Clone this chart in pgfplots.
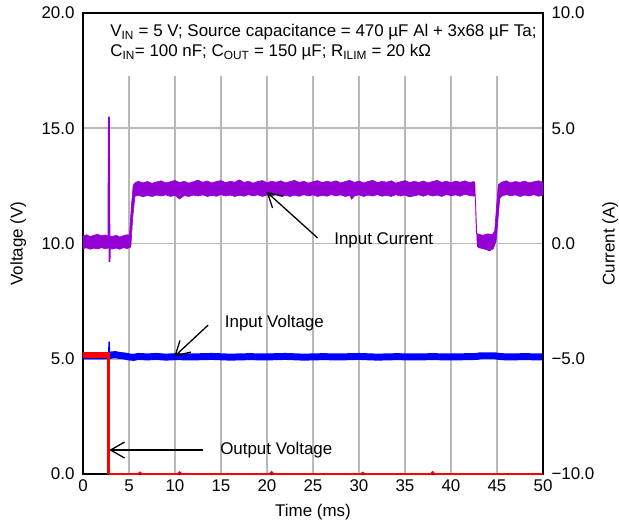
\documentclass[border=0pt]{standalone}
\usepackage{fontspec}
\setmainfont{Liberation Sans}
\usepackage{pgfplots}
\pgfplotsset{compat=1.18}
\usetikzlibrary{arrows.meta}

\definecolor{trcurr}{RGB}{148,0,211}
\definecolor{trvin}{RGB}{0,0,255}
\definecolor{trvout}{RGB}{255,0,0}
\definecolor{gridgray}{RGB}{185,185,185}

\newcommand{\chartfont}{\fontsize{17}{19}\selectfont}

\begin{document}
\begin{tikzpicture}[font=\chartfont]
\pgfplotsset{
  every axis/.append style={
    scale only axis, width=460bp, height=461bp,
    xmin=0, xmax=50,
    major tick length=0pt,
    /pgf/number format/assume math mode=true,
    tick label style={font=\chartfont},
    label style={font=\chartfont, inner sep=0pt},
    axis line style={line width=1.6pt},
    yticklabel shift=5pt,
    xticklabel shift=2pt,
  },
}

% voltage axis (left)
\begin{axis}[
  name=main,
  ymin=0, ymax=20,
  xtick={0,5,...,50},
  ytick={0,5,10,15,20},
  yticklabels={0.0,5.0,10.0,15.0,20.0},
  grid=major,
  major grid style={draw=gridgray, line width=1.7pt},
  xlabel={Time (ms)},
  ylabel={Voltage (V)},
  xlabel style={at={(axis description cs:0.5,-0.082)}, anchor=center},
  ylabel style={at={(axis description cs:-0.141,0.5)}, anchor=center, rotate=0},
]
  % input voltage
  \addplot[trvin, line width=7pt, line join=round] coordinates {
    (0,5.12) (2.83,5.12) (3.0,5.16) (3.5,5.18) (4.0,5.14) (4.5,5.12)
    (5.0,5.08) (5.5,5.06) (6,5.10) (7,5.08) (8,5.10) (9,5.07) (10,5.09)
    (12,5.08) (14,5.10) (16,5.07) (18,5.09) (20,5.08) (22,5.10) (24,5.07)
    (26,5.09) (28,5.08) (30,5.10) (32,5.07) (34,5.09) (36,5.08) (38,5.09)
    (40,5.08) (42,5.09) (42.8,5.10) (43.2,5.13) (44.8,5.13) (45.2,5.10)
    (46,5.08) (48,5.09) (50,5.08)
  };
  \addplot[trvin, line width=1.5pt] coordinates {
    (2.80,5.10) (2.84,5.74) (2.88,5.00) (2.92,5.10)
  };
  % output voltage
  \addplot[trvout, line width=6.5pt] coordinates {(0,5.16) (2.83,5.16)};
  \addplot[trvout, line width=3pt] coordinates {(2.80,5.25) (2.80,0)};
  \addplot[trvout, line width=2pt] coordinates {
    (2.80,0) (6,0) (6.2,0.06) (6.4,0) (10.3,0) (10.5,0.07) (10.7,0)
    (20.3,0) (20.5,0.08) (20.7,0) (30.2,0) (30.4,0.05) (30.6,0)
    (37.8,0) (38.0,0.08) (38.2,0) (50,0)
  };
\end{axis}

% current axis (right)
\begin{axis}[
  ymin=-10, ymax=10,
  axis y line*=right,
  axis x line=none,
  ytick={-10,-5,0,5,10},
  yticklabels={−10.0,−5.0,0.0,5.0,10.0},
  ylabel={Current (A)},
  ylabel style={at={(axis description cs:1.146,0.5)}, anchor=center, rotate=0},
]
  % input current band
  \addplot[fill=trcurr, draw=trcurr, line width=0.6pt] coordinates {
    (0.0,0.32) (0.4,0.38) (0.8,0.30) (1.2,0.36) (1.6,0.40) (2.0,0.33)
    (2.4,0.37) (2.8,0.32) (3.2,0.30) (3.6,0.36) (4.0,0.28) (4.4,0.34)
    (4.8,0.38) (5.05,0.36) (5.25,1.6) (5.45,2.50) (5.6,2.62)
    (6.0,2.70) (6.5,2.63) (7.0,2.69) (7.5,2.61) (8.0,2.67) (8.5,2.72)
    (9.0,2.63) (9.5,2.68) (10.0,2.74) (10.5,2.64) (11.0,2.70) (11.5,2.62)
    (12.0,2.68) (12.5,2.75) (13.0,2.66) (13.5,2.71) (14.0,2.63) (14.5,2.69)
    (15.0,2.73) (15.5,2.64) (16.0,2.70) (16.5,2.66) (17.0,2.76) (17.5,2.65)
    (18.0,2.70) (18.5,2.62) (19.0,2.69) (19.5,2.73) (20.0,2.64) (20.5,2.70)
    (21.0,2.66) (21.5,2.72) (22.0,2.63) (22.5,2.69) (23.0,2.74) (23.5,2.65)
    (24.0,2.70) (24.5,2.62) (25.0,2.68) (25.5,2.73) (26.0,2.64) (26.5,2.70)
    (27.0,2.66) (27.5,2.72) (28.0,2.63) (28.5,2.69) (29.0,2.74) (29.5,2.65)
    (30.0,2.71) (30.5,2.63) (31.0,2.69) (31.5,2.74) (32.0,2.64) (32.5,2.70)
    (33.0,2.66) (33.5,2.72) (34.0,2.62) (34.5,2.68) (35.0,2.73) (35.5,2.64)
    (36.0,2.70) (36.5,2.65) (37.0,2.71) (37.5,2.63) (38.0,2.69) (38.5,2.74)
    (39.0,2.65) (39.5,2.70) (40.0,2.64) (40.5,2.71) (41.0,2.66) (41.5,2.72)
    (42.0,2.64) (42.5,2.69) (42.6,2.60) (42.75,0.45) (43.0,0.40) (43.5,0.36)
    (44.0,0.42) (44.5,0.38) (44.75,0.55) (44.95,1.6) (45.15,2.55)
    (45.5,2.66) (46.0,2.72) (46.5,2.63) (47.0,2.69) (47.5,2.65) (48.0,2.71)
    (48.5,2.63) (49.0,2.68) (49.5,2.72) (50.0,2.66)
    (50.0,2.10) (49.5,2.05) (49.0,2.12) (48.5,2.06) (48.0,2.10) (47.5,2.04)
    (47.0,2.11) (46.5,2.07) (46.0,2.12) (45.5,2.05) (45.3,1.95) (45.1,1.0)
    (44.9,0.10) (44.6,-0.22) (44.2,-0.32) (43.8,-0.26) (43.4,-0.22)
    (43.0,-0.18) (42.85,-0.10) (42.65,2.05) (42.0,2.08) (41.5,2.14)
    (41.0,2.05) (40.5,2.11) (40.0,2.07) (39.5,2.13) (39.0,2.04) (38.5,2.10)
    (38.0,2.06) (37.5,2.12) (37.0,2.05) (36.5,2.11) (36.0,2.07) (35.5,2.02)
    (35.0,2.10) (34.5,2.06) (34.0,2.12) (33.5,2.04) (33.0,2.09) (32.5,2.05)
    (32.0,2.12) (31.5,2.06) (31.0,2.10) (30.5,2.04) (30.0,2.11) (29.5,2.06)
    (29.2,1.92) (29.0,2.08) (28.5,2.04) (28.0,2.11) (27.5,2.06) (27.0,2.12)
    (26.5,2.05) (26.0,2.09) (25.5,2.04) (25.0,2.11) (24.5,2.06) (24.0,2.12)
    (23.5,2.05) (23.0,2.10) (22.5,2.04) (22.0,2.09) (21.5,2.05) (21.0,2.12)
    (20.5,2.06) (20.0,2.10) (19.5,2.04) (19.0,2.11) (18.5,2.06) (18.0,2.12)
    (17.5,2.05) (17.0,2.09) (16.5,2.04) (16.0,2.10) (15.5,2.06) (15.0,2.12)
    (14.5,2.05) (14.0,2.09) (13.5,2.04) (13.0,2.11) (12.5,2.06) (12.0,2.10)
    (11.5,2.04) (11.0,2.08) (10.5,1.93) (10.0,2.09) (9.5,2.04) (9.0,2.11)
    (8.5,2.06) (8.0,2.10) (7.5,2.04) (7.0,2.08) (6.5,2.03) (6.0,2.09)
    (5.65,2.05) (5.4,1.1) (5.2,-0.15) (4.8,-0.22) (4.4,-0.18) (4.0,-0.25)
    (3.6,-0.20) (3.2,-0.24) (2.8,-0.19) (2.4,-0.23) (2.0,-0.18) (1.6,-0.24)
    (1.2,-0.20) (0.8,-0.25) (0.4,-0.19) (0.0,-0.22)
  } -- cycle;
  % inrush spike
  \addplot[trcurr, line width=1.8pt] coordinates {
    (2.76,0.2) (2.82,5.5) (2.88,-0.8) (2.94,0.0)
  };

  % caption box
  \fill[white] ([xshift=1.2pt]rel axis cs:0,0.863) rectangle ([xshift=-1.2pt,yshift=-1.2pt]rel axis cs:1,1);
  \node[anchor=base west, inner sep=0pt] at (axis cs:2.95,8.96)
    {V\textsubscript{IN} = 5 V; Source capacitance = 470 µF Al + 3x68 µF Ta;};
  \node[anchor=base west, inner sep=0pt] at (axis cs:2.95,8.1)
    {C\textsubscript{IN}= 100 nF; C\textsubscript{OUT} = 150 µF; R\textsubscript{ILIM} = 20 kΩ};

  % annotations
  \node[anchor=west, inner sep=0pt] at (axis cs:27.3,0.15) {Input Current};
  \draw[line width=1.3pt, -{Straight Barb[length=14pt,width=16pt]}] (axis cs:25.5,0.24) -- (axis cs:19.95,2.24);
  \node[anchor=west, inner sep=0pt] at (axis cs:15.4,-3.45) {Input Voltage};
  \draw[line width=1.3pt, -{Straight Barb[length=14pt,width=16pt]}] (axis cs:13.6,-3.54) -- (axis cs:9.92,-4.91);
  \node[anchor=west, inner sep=0pt] at (axis cs:14.9,-8.96) {Output Voltage};
  \draw[line width=1.3pt, -{Straight Barb[length=14pt,width=16pt]}] (axis cs:13.0,-8.96) -- (axis cs:2.86,-8.96);
\end{axis}

\path ([xshift=-83bp,yshift=-55bp]main.south west) rectangle ([xshift=76bp,yshift=13bp]main.north east);
\end{tikzpicture}
\end{document}
